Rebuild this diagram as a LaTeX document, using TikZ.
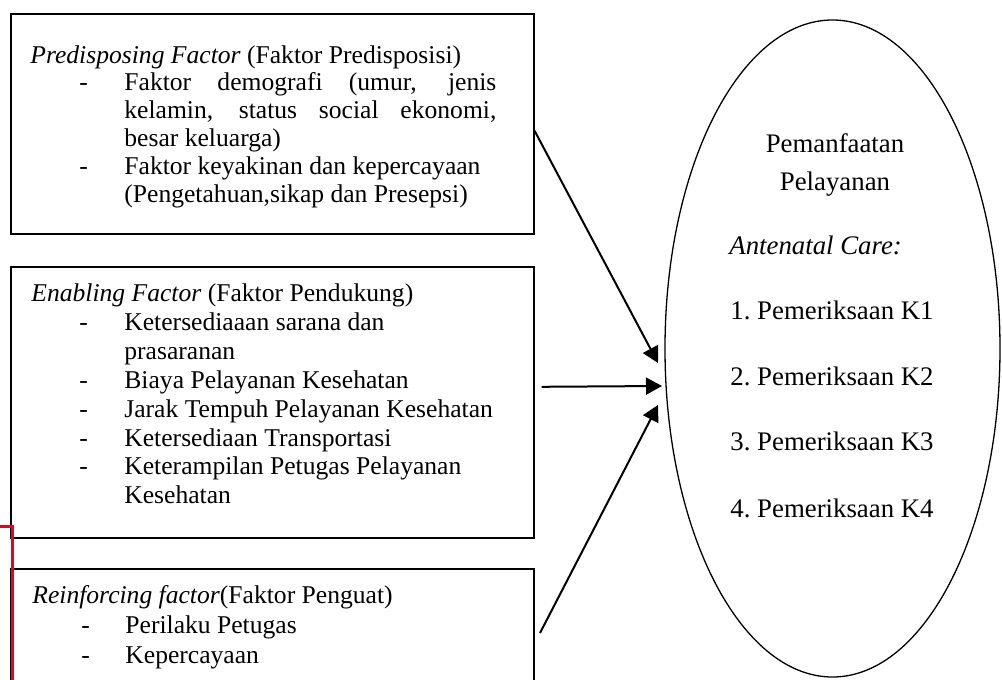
\documentclass[tikz,border=0pt]{standalone}
\usepackage{fontspec}
\setmainfont{Liberation Serif}
\usetikzlibrary{arrows.meta,shapes.geometric}

\definecolor{markred}{RGB}{200,16,40}
\newcommand{\justln}[1]{\makebox[186pt][s]{#1}}

\tikzset{
  factor/.style={draw, line width=0.8pt, anchor=north west, inner sep=0pt, minimum width=261.5pt},
  txt/.style={anchor=base west, inner sep=0pt, font=\fontsize{12.8}{14}\selectfont},
  usage/.style={draw, ellipse, line width=0.65pt, minimum width=167.5pt, minimum height=328.5pt, inner sep=0pt},
  inside/.style={anchor=base west, inner sep=0pt, font=\fontsize{13.4}{15}\selectfont},
  influence/.style={-{Triangle[length=8pt,width=8.5pt]}, line width=1pt},
}

\begin{document}
\begin{tikzpicture}[x=0.5pt, y=-0.5pt]
\useasboundingbox (0,0) rectangle (1002,680);
\clip (0,0) rectangle (1002,680);

% kotak faktor
\node[factor, minimum height=110pt] (predis) at (10,13) {};
\node[factor, minimum height=135.5pt] (enab) at (10,266) {};
\node[factor, minimum height=100pt] (reinf) at (10,568) {};

% predisposing
\node[txt] (predis-h) at (30,63) {\textit{Predisposing Factor} (Faktor Predisposisi)};
\foreach \i/\yy in {1/90.8,4/174.2}
  \node[txt] (predis-d\i) at (79,\yy) {-};
\foreach \i/\yy/\t in {1/90.8/{\justln{Faktor demografi (umur, jenis}},
                       2/118.6/{\justln{kelamin, status social ekonomi,}},
                       3/146.4/{besar keluarga)},
                       4/174.2/{Faktor keyakinan dan kepercayaan},
                       5/202/{(Pengetahuan,sikap dan Presepsi)}}
  \node[txt] (predis-\i) at (124,\yy) {\t};

% enabling
\node[txt] (enab-h) at (31,301) {\textit{Enabling Factor} (Faktor Pendukung)};
\foreach \i/\yy in {1/330,3/388,4/417,5/446,6/474}
  \node[txt] (enab-d\i) at (79,\yy) {-};
\foreach \i/\yy/\t in {1/330/{Ketersediaaan sarana dan},
                       2/359/{prasaranan},
                       3/388/{Biaya Pelayanan Kesehatan},
                       4/417/{Jarak Tempuh Pelayanan Kesehatan},
                       5/446/{Ketersediaan Transportasi},
                       6/474/{Keterampilan Petugas Pelayanan},
                       7/503/{Kesehatan}}
  \node[txt] (enab-\i) at (124,\yy) {\t};

% reinforcing
\node[txt] (reinf-h) at (32,603) {\textit{Reinforcing factor}(Faktor Penguat)};
\foreach \i/\yy/\t in {1/633/{Perilaku Petugas}, 2/663/{Kepercayaan}}{
  \node[txt] (reinf-d\i) at (81,\yy) {-};
  \node[txt] (reinf-\i) at (125,\yy) {\t};
}

% pemanfaatan pelayanan
\node[usage] (util) at (832.5,348.5) {};
\node[inside, anchor=base] (util-1) at (835,152) {Pemanfaatan};
\node[inside, anchor=base] (util-2) at (835,190) {Pelayanan};
\node[inside] (util-3) at (729,254) {\textit{Antenatal Care:}};
\foreach \k/\yy in {1/319,2/385,3/450,4/517}
  \node[inside] (anc-\k) at (730,\yy) {\k.\ Pemeriksaan K\k};

% panah
\coordinate (e1) at (658,363);
\coordinate (e2) at (662,386);
\coordinate (e3) at (658,405);
\draw[influence] ([yshift=-3.5pt]predis.east) -- (e1);
\draw[influence] ([xshift=3.5pt,yshift=7.75pt]enab.east) -- (e2);
\draw[influence] (540,633) -- (e3);

% tanda merah
\draw[markred, line width=1.5pt] (0,526) -- (12,526) -- (12,690);
\end{tikzpicture}
\end{document}
